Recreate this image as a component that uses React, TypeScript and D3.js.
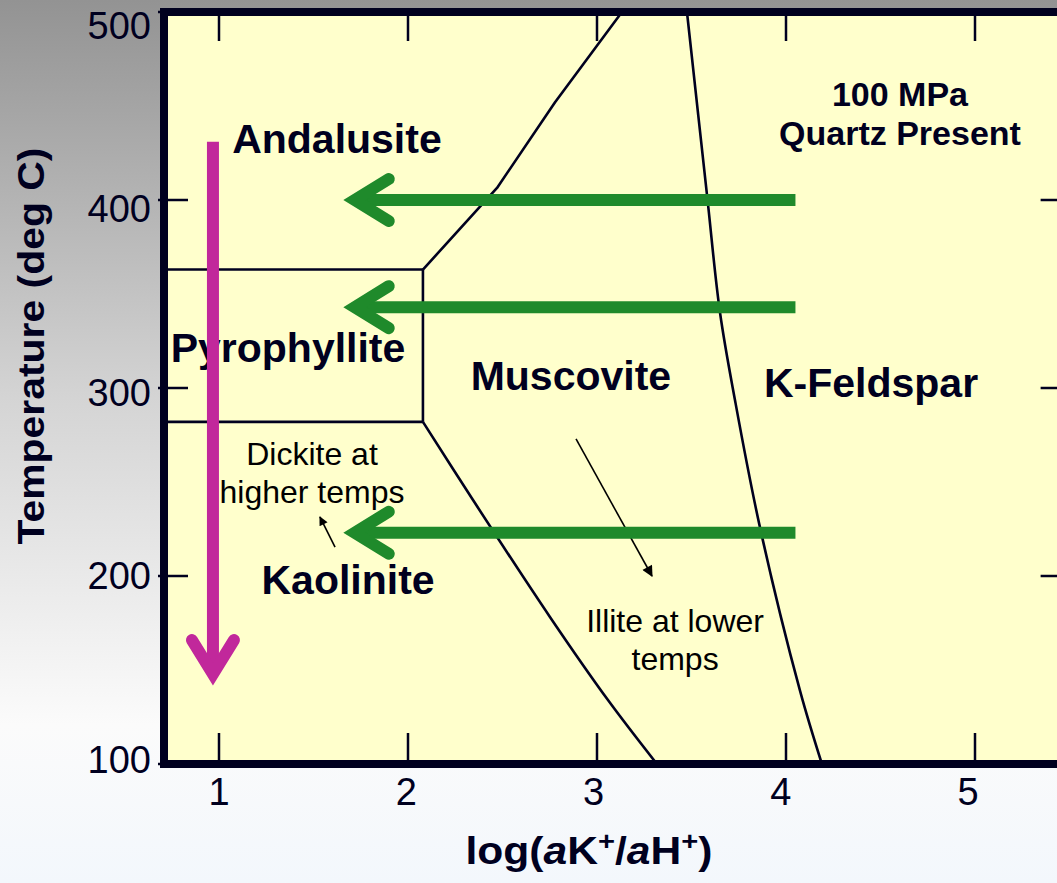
import * as d3 from "d3";

const W = 1057;
const H = 883;

// axis values
const xTicks = [1, 2, 3, 4, 5];
const yTicks = [100, 200, 300, 400, 500];
const xFrame = [0.709, 5.49];
const yFrame = [100, 500];

// phase boundaries, [log(aK+/aH+), T]
const pyroTop = [[0.709, 363], [2.079, 363]];
const pyroBottom = [[0.709, 282], [2.079, 282]];
const pyroRight = [[2.079, 363], [2.079, 282]];
const andalusiteMuscovite = [[2.079, 363], [2.471, 406.4], [2.778, 452], [3.132, 500]];
const kaoliniteMuscovite = [[2.079, 282], [2.344, 240.4], [2.751, 178.2], [3.058, 134], [3.317, 100]];
const muscoviteKspar = [[3.476, 500], [3.582, 402.7], [3.651, 340], [3.73, 293.6], [3.862, 226], [4.074, 139], [4.19, 100]];

// big arrows
const greenArrowT = [400, 343, 223];
const greenArrowFrom = 4.05;
const greenArrowTip = 1.66;
const magentaX = 0.968;
const magentaFrom = 431;
const magentaTip = 142;

// small arrows [from, to]
const dickiteArrow = [[1.614, 215.4], [1.534, 231.4]];
const illiteArrow = [[2.889, 272.9], [3.291, 200]];

// field labels
const boldLabels = [
  { text: "Andalusite", x: 1.624, t: 425 },
  { text: "Pyrophyllite", x: 1.365, t: 313.8 },
  { text: "Muscovite", x: 2.862, t: 299 },
  { text: "K-Feldspar", x: 4.45, t: 295 },
  { text: "Kaolinite", x: 1.683, t: 190.4 },
];
const noteLabels = [
  { text: "100 MPa", x: 4.603, t: 450 },
  { text: "Quartz Present", x: 4.603, t: 429 },
];
const thinLabels = [
  { text: "Dickite at", x: 1.492, t: 259 },
  { text: "higher temps", x: 1.492, t: 238.8 },
  { text: "Illite at lower", x: 3.413, t: 170.2 },
  { text: "temps", x: 3.413, t: 150 },
];

const FONT = "'Liberation Sans', Arial, Helvetica, sans-serif";
const INK = "#00001f";

export default function App() {
  const x = d3.scaleLinear().domain([1, 5]).range([219, 975]);
  const y = d3.scaleLinear().domain([100, 500]).range([764, 12]);
  // tick labels sit on their own even spacing in the original slide
  const xLab = d3.scalePoint<number>().domain(xTicks).range([219, 968]);
  const yLab = d3.scalePoint<number>().domain(yTicks).range([759, 25]);

  const line = d3.line<number[]>().x((d) => x(d[0])).y((d) => y(d[1]));
  const curve = d3
    .line<number[]>()
    .x((d) => x(d[0]))
    .y((d) => y(d[1]))
    .curve(d3.curveCatmullRom);

  const fx0 = x(xFrame[0]);
  const fx1 = x(xFrame[1]);
  const fy0 = y(yFrame[1]);
  const fy1 = y(yFrame[0]);

  const tipX = x(greenArrowTip) + 11;
  const magTipY = y(magentaTip) - 11;

  return (
    <svg
      width={W}
      height={H}
      style={{ position: "absolute", left: 0, top: 0, display: "block" }}
      fontFamily={FONT}
    >
      <defs>
        <linearGradient id="bg" x1="0" y1="0" x2="0" y2="1">
          <stop offset="0%" stopColor="#939393" />
          <stop offset="45%" stopColor="#d4d4d4" />
          <stop offset="82%" stopColor="#fbfbfb" />
          <stop offset="100%" stopColor="#f3f7fc" />
        </linearGradient>
        <marker id="head" viewBox="0 0 10 10" refX="9" refY="5" markerWidth="14" markerHeight="11"
          markerUnits="userSpaceOnUse" orient="auto">
          <path d="M0,0L10,5L0,10Z" fill="#000" />
        </marker>
        <marker id="headSmall" viewBox="0 0 10 10" refX="9" refY="5" markerWidth="11" markerHeight="9"
          markerUnits="userSpaceOnUse" orient="auto">
          <path d="M0,0L10,5L0,10Z" fill="#000" />
        </marker>
      </defs>
      <rect x={0} y={0} width={W} height={H} fill="url(#bg)" />

      {/* plot frame */}
      <rect x={fx0} y={fy0} width={fx1 - fx0} height={fy1 - fy0} fill="#ffffcc" />

      {/* ticks, pointing inward */}
      <g stroke={INK} strokeWidth={2.5}>
        {xTicks.map((v) => (
          <g key={v}>
            <line x1={x(v)} x2={x(v)} y1={fy1} y2={fy1 - 31} />
            <line x1={x(v)} x2={x(v)} y1={fy0} y2={fy0 + 29} />
          </g>
        ))}
        {yTicks.map((v) => (
          <g key={v}>
            <line x1={fx0 - 6} x2={fx0 + 24} y1={y(v)} y2={y(v)} />
            <line x1={fx1} x2={fx1 - 27} y1={y(v)} y2={y(v)} />
          </g>
        ))}
      </g>

      {/* phase boundaries */}
      <g fill="none" stroke={INK} strokeWidth={2.6} strokeLinejoin="round">
        <path d={line(pyroTop) || ""} />
        <path d={line(pyroBottom) || ""} />
        <path d={line(pyroRight) || ""} />
        <path d={line(andalusiteMuscovite) || ""} />
        <path d={curve(kaoliniteMuscovite) || ""} />
        <path d={curve(muscoviteKspar) || ""} />
      </g>

      {/* field labels */}
      <g fill={INK} fontWeight="bold" fontSize={41} textAnchor="middle">
        {boldLabels.map((d) => (
          <text key={d.text} x={x(d.x)} y={y(d.t)}>{d.text}</text>
        ))}
      </g>
      <g fill={INK} fontWeight="bold" fontSize={34} textAnchor="middle">
        {noteLabels.map((d) => (
          <text key={d.text} x={x(d.x)} y={y(d.t)}>{d.text}</text>
        ))}
      </g>
      <g fill="#000" fontSize={32} textAnchor="middle">
        {thinLabels.map((d) => (
          <text key={d.text} x={x(d.x)} y={y(d.t)}>{d.text}</text>
        ))}
      </g>

      {/* small arrows */}
      <g stroke="#000" strokeWidth={1.6}>
        <line x1={x(dickiteArrow[0][0])} y1={y(dickiteArrow[0][1])} x2={x(dickiteArrow[1][0])}
          y2={y(dickiteArrow[1][1])} markerEnd="url(#headSmall)" />
        <line x1={x(illiteArrow[0][0])} y1={y(illiteArrow[0][1])} x2={x(illiteArrow[1][0])}
          y2={y(illiteArrow[1][1])} markerEnd="url(#head)" />
      </g>

      {/* green arrows */}
      <g stroke="#1f8a2b" strokeWidth={12} fill="none">
        {greenArrowT.map((t) => (
          <g key={t}>
            <line x1={x(greenArrowFrom)} x2={tipX} y1={y(t)} y2={y(t)} />
            <polyline
              points={`${tipX + 34},${y(t) - 21} ${tipX},${y(t)} ${tipX + 34},${y(t) + 21}`}
              strokeLinecap="round"
              strokeLinejoin="miter"
            />
          </g>
        ))}
      </g>

      {/* magenta arrow */}
      <g stroke="#c1289b" strokeWidth={12} fill="none">
        <line x1={x(magentaX)} x2={x(magentaX)} y1={y(magentaFrom)} y2={magTipY} />
        <polyline
          points={`${x(magentaX) - 21},${magTipY - 34} ${x(magentaX)},${magTipY} ${x(magentaX) + 21},${magTipY - 34}`}
          strokeLinecap="round"
          strokeLinejoin="miter"
        />
      </g>

      {/* frame border */}
      <rect x={fx0} y={fy0} width={fx1 - fx0} height={fy1 - fy0} fill="none" stroke={INK} strokeWidth={8} />

      {/* tick labels */}
      <g fill={INK} fontSize={38}>
        {xTicks.map((v) => (
          <text key={v} x={xLab(v)} y={805} textAnchor="middle">{v}</text>
        ))}
        {yTicks.map((v) => (
          <text key={v} x={151} y={(yLab(v) || 0) + 13.6} textAnchor="end">{v}</text>
        ))}
      </g>

      {/* axis titles */}
      <text x={589} y={864} textAnchor="middle" fontSize={38} fontWeight="bold" fill={INK}
        textLength={247} lengthAdjust="spacingAndGlyphs">
        log(<tspan fontStyle="italic">a</tspan>K<tspan fontSize={26} dy={-14}>+</tspan>
        <tspan dy={14}>/</tspan><tspan fontStyle="italic">a</tspan>H
        <tspan fontSize={26} dy={-14}>+</tspan><tspan dy={14}>)</tspan>
      </text>
      <text
        transform="translate(44,346) rotate(-90)"
        textAnchor="middle"
        fontSize={37}
        fontWeight="bold"
        fill={INK}
        textLength={397}
        lengthAdjust="spacingAndGlyphs"
      >
        Temperature (deg C)
      </text>
    </svg>
  );
}
